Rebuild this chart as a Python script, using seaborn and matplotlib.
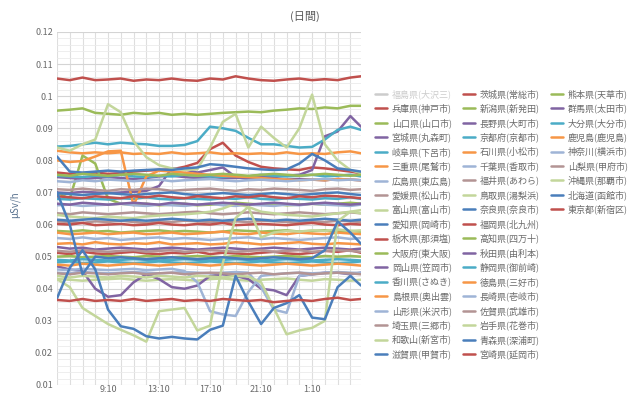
import matplotlib
matplotlib.use("Agg")
import matplotlib.pyplot as plt
from matplotlib.lines import Line2D
from matplotlib.ticker import FixedLocator, MultipleLocator, FuncFormatter
import numpy as np
import pandas as pd
import seaborn as sns

# 時刻（1時間ごとに読み取り）-------------------------------------------------
hours = ["5:10", "6:10", "7:10", "8:10", "9:10", "10:10", "11:10", "12:10",
         "13:10", "14:10", "15:10", "16:10", "17:10", "18:10", "19:10", "20:10",
         "21:10", "22:10", "23:10", "0:10", "1:10", "2:10", "3:10", "4:10", "5:00"]
tick_labels = ["9:10", "13:10", "17:10", "21:10", "1:10"]

# 各地点の空間線量 (μSv/h) -----------------------------------------------------
ibaraki = [0.1055, 0.1050, 0.1058, 0.1050, 0.1052, 0.1055, 0.1048, 0.1052, 0.1050, 0.1055, 0.1050, 0.1048, 0.1055, 0.1052, 0.1062, 0.1055, 0.1050, 0.1048, 0.1052, 0.1055, 0.1050, 0.1053, 0.1050, 0.1058, 0.1062]
kumamoto = [0.0955, 0.0958, 0.0962, 0.0948, 0.0945, 0.0942, 0.0948, 0.0945, 0.0948, 0.0942, 0.0945, 0.0942, 0.0945, 0.0948, 0.0950, 0.0952, 0.0950, 0.0955, 0.0958, 0.0962, 0.0960, 0.0965, 0.0962, 0.0970, 0.0970]
hyogo = [0.0762, 0.0758, 0.0760, 0.0762, 0.0758, 0.0760, 0.0765, 0.0768, 0.0770, 0.0772, 0.0780, 0.0792, 0.0835, 0.0855, 0.0815, 0.0795, 0.0780, 0.0775, 0.0772, 0.0770, 0.0778, 0.0775, 0.0770, 0.0765, 0.0760]
niigata = [0.0700, 0.0680, 0.0815, 0.0790, 0.0680, 0.0665, 0.0662, 0.0665, 0.0660, 0.0662, 0.0665, 0.0660, 0.0662, 0.0665, 0.0668, 0.0665, 0.0662, 0.0665, 0.0660, 0.0662, 0.0665, 0.0662, 0.0665, 0.0668, 0.0665]
gunma = [0.0748, 0.0745, 0.0742, 0.0745, 0.0748, 0.0745, 0.0742, 0.0745, 0.0750, 0.0752, 0.0748, 0.0745, 0.0748, 0.0745, 0.0745, 0.0748, 0.0750, 0.0748, 0.0752, 0.0755, 0.0770, 0.0875, 0.0890, 0.0938, 0.0905]
yamaguchi = [0.0580, 0.0578, 0.0582, 0.0578, 0.0580, 0.0575, 0.0578, 0.0580, 0.0582, 0.0578, 0.0580, 0.0578, 0.0575, 0.0578, 0.0582, 0.0580, 0.0578, 0.0580, 0.0582, 0.0578, 0.0580, 0.0582, 0.0578, 0.0580, 0.0578]
nagano = [0.0700, 0.0698, 0.0702, 0.0700, 0.0698, 0.0700, 0.0702, 0.0705, 0.0720, 0.0775, 0.0772, 0.0762, 0.0770, 0.0778, 0.0748, 0.0742, 0.0740, 0.0738, 0.0740, 0.0742, 0.0740, 0.0738, 0.0742, 0.0740, 0.0738]
oita = [0.0843, 0.0845, 0.0850, 0.0855, 0.0850, 0.0855, 0.0852, 0.0850, 0.0845, 0.0845, 0.0848, 0.0860, 0.0905, 0.0900, 0.0892, 0.0870, 0.0850, 0.0850, 0.0845, 0.0840, 0.0842, 0.0865, 0.0895, 0.0905, 0.0895]
miyagi = [0.0530, 0.0525, 0.0528, 0.0522, 0.0525, 0.0528, 0.0525, 0.0522, 0.0525, 0.0528, 0.0525, 0.0522, 0.0525, 0.0528, 0.0525, 0.0522, 0.0525, 0.0528, 0.0525, 0.0522, 0.0525, 0.0528, 0.0525, 0.0522, 0.0525]
kyoto = [0.0752, 0.0750, 0.0748, 0.0752, 0.0750, 0.0755, 0.0750, 0.0748, 0.0752, 0.0750, 0.0755, 0.0752, 0.0750, 0.0748, 0.0752, 0.0750, 0.0755, 0.0752, 0.0750, 0.0752, 0.0755, 0.0750, 0.0752, 0.0755, 0.0750]
kagoshima = [0.0830, 0.0825, 0.0822, 0.0825, 0.0822, 0.0825, 0.0820, 0.0822, 0.0820, 0.0825, 0.0820, 0.0822, 0.0825, 0.0820, 0.0822, 0.0820, 0.0822, 0.0820, 0.0825, 0.0820, 0.0822, 0.0820, 0.0825, 0.0828, 0.0822]
gifu = [0.0680, 0.0678, 0.0682, 0.0680, 0.0678, 0.0682, 0.0680, 0.0685, 0.0680, 0.0678, 0.0682, 0.0680, 0.0678, 0.0682, 0.0680, 0.0685, 0.0680, 0.0678, 0.0682, 0.0680, 0.0678, 0.0682, 0.0680, 0.0685, 0.0680]
ishikawa = [0.0800, 0.0795, 0.0798, 0.0812, 0.0828, 0.0830, 0.0660, 0.0750, 0.0768, 0.0765, 0.0762, 0.0758, 0.0755, 0.0752, 0.0750, 0.0748, 0.0745, 0.0742, 0.0740, 0.0738, 0.0740, 0.0738, 0.0742, 0.0740, 0.0738]
kanagawa = [0.0735, 0.0732, 0.0738, 0.0735, 0.0740, 0.0738, 0.0735, 0.0738, 0.0740, 0.0735, 0.0738, 0.0740, 0.0742, 0.0738, 0.0735, 0.0738, 0.0740, 0.0738, 0.0735, 0.0738, 0.0740, 0.0742, 0.0738, 0.0740, 0.0738]
mie = [0.0575, 0.0570, 0.0572, 0.0575, 0.0570, 0.0573, 0.0575, 0.0570, 0.0572, 0.0575, 0.0570, 0.0572, 0.0575, 0.0578, 0.0572, 0.0570, 0.0575, 0.0572, 0.0570, 0.0575, 0.0572, 0.0570, 0.0575, 0.0572, 0.0570]
chiba = [0.0660, 0.0662, 0.0658, 0.0660, 0.0662, 0.0665, 0.0660, 0.0658, 0.0662, 0.0660, 0.0658, 0.0662, 0.0665, 0.0660, 0.0658, 0.0662, 0.0660, 0.0658, 0.0662, 0.0660, 0.0665, 0.0662, 0.0660, 0.0658, 0.0662]
yamanashi = [0.0710, 0.0708, 0.0712, 0.0708, 0.0705, 0.0710, 0.0708, 0.0712, 0.0710, 0.0705, 0.0708, 0.0710, 0.0712, 0.0708, 0.0705, 0.0710, 0.0708, 0.0712, 0.0710, 0.0708, 0.0705, 0.0710, 0.0712, 0.0708, 0.0710]
hiroshima = [0.0558, 0.0555, 0.0560, 0.0555, 0.0558, 0.0552, 0.0555, 0.0558, 0.0560, 0.0555, 0.0558, 0.0555, 0.0552, 0.0555, 0.0558, 0.0560, 0.0555, 0.0558, 0.0555, 0.0552, 0.0555, 0.0558, 0.0560, 0.0555, 0.0558]
fukui = [0.0635, 0.0632, 0.0638, 0.0635, 0.0632, 0.0635, 0.0638, 0.0635, 0.0632, 0.0635, 0.0638, 0.0640, 0.0635, 0.0632, 0.0635, 0.0638, 0.0635, 0.0632, 0.0635, 0.0638, 0.0635, 0.0632, 0.0635, 0.0638, 0.0635]
okinawa = [0.0840, 0.0830, 0.0850, 0.0865, 0.0975, 0.0950, 0.0860, 0.0810, 0.0785, 0.0775, 0.0770, 0.0772, 0.0840, 0.0920, 0.0945, 0.0840, 0.0905, 0.0870, 0.0840, 0.0900, 0.1005, 0.0850, 0.0800, 0.0770, 0.0760]
ehime = [0.0610, 0.0608, 0.0605, 0.0610, 0.0608, 0.0612, 0.0608, 0.0605, 0.0610, 0.0608, 0.0612, 0.0610, 0.0608, 0.0605, 0.0610, 0.0608, 0.0612, 0.0610, 0.0608, 0.0605, 0.0610, 0.0608, 0.0612, 0.0610, 0.0608]
tottori = [0.0630, 0.0625, 0.0622, 0.0620, 0.0625, 0.0622, 0.0620, 0.0625, 0.0628, 0.0630, 0.0632, 0.0635, 0.0640, 0.0650, 0.0665, 0.0655, 0.0640, 0.0635, 0.0630, 0.0628, 0.0625, 0.0630, 0.0635, 0.0640, 0.0645]
hokkaido = [0.0812, 0.0765, 0.0762, 0.0765, 0.0768, 0.0765, 0.0768, 0.0770, 0.0772, 0.0770, 0.0775, 0.0778, 0.0788, 0.0785, 0.0780, 0.0775, 0.0772, 0.0770, 0.0772, 0.0790, 0.0820, 0.0800, 0.0775, 0.0770, 0.0765]
toyama = [0.0430, 0.0428, 0.0425, 0.0428, 0.0430, 0.0432, 0.0428, 0.0425, 0.0428, 0.0430, 0.0428, 0.0425, 0.0430, 0.0432, 0.0428, 0.0425, 0.0428, 0.0430, 0.0432, 0.0428, 0.0425, 0.0430, 0.0428, 0.0425, 0.0428]
nara = [0.0698, 0.0695, 0.0692, 0.0695, 0.0698, 0.0695, 0.0692, 0.0695, 0.0698, 0.0700, 0.0695, 0.0692, 0.0695, 0.0698, 0.0695, 0.0692, 0.0695, 0.0698, 0.0695, 0.0692, 0.0695, 0.0698, 0.0700, 0.0695, 0.0692]
tokyo = [0.0602, 0.0600, 0.0605, 0.0598, 0.0600, 0.0602, 0.0598, 0.0600, 0.0605, 0.0600, 0.0598, 0.0602, 0.0600, 0.0605, 0.0598, 0.0600, 0.0602, 0.0600, 0.0598, 0.0602, 0.0605, 0.0600, 0.0598, 0.0602, 0.0600]
aichi = [0.0615, 0.0612, 0.0615, 0.0618, 0.0615, 0.0612, 0.0615, 0.0612, 0.0615, 0.0618, 0.0615, 0.0612, 0.0615, 0.0612, 0.0615, 0.0618, 0.0615, 0.0612, 0.0615, 0.0612, 0.0615, 0.0618, 0.0615, 0.0612, 0.0615]
fukuoka = [0.0688, 0.0685, 0.0682, 0.0688, 0.0685, 0.0682, 0.0688, 0.0685, 0.0690, 0.0685, 0.0682, 0.0688, 0.0685, 0.0682, 0.0688, 0.0685, 0.0690, 0.0685, 0.0682, 0.0688, 0.0685, 0.0690, 0.0688, 0.0685, 0.0682]
tochigi = [0.0512, 0.0508, 0.0515, 0.0510, 0.0508, 0.0512, 0.0515, 0.0510, 0.0508, 0.0512, 0.0510, 0.0515, 0.0508, 0.0512, 0.0510, 0.0508, 0.0512, 0.0515, 0.0510, 0.0508, 0.0512, 0.0518, 0.0515, 0.0520, 0.0512]
kochi = [0.0500, 0.0502, 0.0498, 0.0500, 0.0502, 0.0500, 0.0498, 0.0502, 0.0500, 0.0498, 0.0500, 0.0502, 0.0500, 0.0498, 0.0502, 0.0500, 0.0498, 0.0500, 0.0502, 0.0500, 0.0498, 0.0502, 0.0500, 0.0502, 0.0500]
osaka = [0.0755, 0.0752, 0.0758, 0.0755, 0.0752, 0.0755, 0.0758, 0.0755, 0.0752, 0.0758, 0.0755, 0.0752, 0.0755, 0.0758, 0.0755, 0.0752, 0.0755, 0.0758, 0.0755, 0.0752, 0.0755, 0.0758, 0.0755, 0.0752, 0.0755]
akita = [0.0470, 0.0460, 0.0455, 0.0400, 0.0375, 0.0380, 0.0420, 0.0445, 0.0430, 0.0405, 0.0400, 0.0410, 0.0440, 0.0445, 0.0440, 0.0430, 0.0400, 0.0395, 0.0380, 0.0440, 0.0445, 0.0450, 0.0450, 0.0445, 0.0450]
okayama = [0.0665, 0.0662, 0.0668, 0.0665, 0.0662, 0.0665, 0.0668, 0.0665, 0.0662, 0.0668, 0.0665, 0.0662, 0.0665, 0.0668, 0.0665, 0.0662, 0.0665, 0.0668, 0.0665, 0.0662, 0.0665, 0.0668, 0.0665, 0.0662, 0.0665]
shizuoka = [0.0490, 0.0488, 0.0492, 0.0490, 0.0488, 0.0490, 0.0492, 0.0490, 0.0488, 0.0490, 0.0492, 0.0490, 0.0488, 0.0490, 0.0492, 0.0490, 0.0488, 0.0490, 0.0492, 0.0490, 0.0488, 0.0490, 0.0492, 0.0490, 0.0488]
kagawa = [0.0482, 0.0485, 0.0480, 0.0482, 0.0485, 0.0482, 0.0480, 0.0482, 0.0485, 0.0482, 0.0480, 0.0482, 0.0485, 0.0482, 0.0480, 0.0482, 0.0485, 0.0482, 0.0480, 0.0482, 0.0485, 0.0482, 0.0480, 0.0482, 0.0485]
tokushima = [0.0475, 0.0472, 0.0478, 0.0475, 0.0472, 0.0475, 0.0478, 0.0475, 0.0472, 0.0475, 0.0478, 0.0475, 0.0472, 0.0475, 0.0478, 0.0475, 0.0472, 0.0475, 0.0478, 0.0475, 0.0472, 0.0475, 0.0478, 0.0475, 0.0472]
shimane = [0.0540, 0.0542, 0.0538, 0.0545, 0.0540, 0.0538, 0.0542, 0.0540, 0.0545, 0.0538, 0.0540, 0.0542, 0.0538, 0.0540, 0.0545, 0.0542, 0.0538, 0.0540, 0.0542, 0.0545, 0.0540, 0.0538, 0.0542, 0.0540, 0.0538]
nagasaki = [0.0460, 0.0458, 0.0462, 0.0460, 0.0458, 0.0460, 0.0462, 0.0458, 0.0460, 0.0462, 0.0455, 0.0420, 0.0330, 0.0320, 0.0315, 0.0390, 0.0440, 0.0445, 0.0448, 0.0450, 0.0448, 0.0450, 0.0452, 0.0450, 0.0448]
yamagata = [0.0450, 0.0448, 0.0452, 0.0450, 0.0448, 0.0450, 0.0452, 0.0450, 0.0448, 0.0450, 0.0452, 0.0450, 0.0448, 0.0450, 0.0452, 0.0450, 0.0405, 0.0335, 0.0325, 0.0440, 0.0445, 0.0448, 0.0450, 0.0448, 0.0450]
saga = [0.0518, 0.0515, 0.0520, 0.0518, 0.0515, 0.0518, 0.0520, 0.0515, 0.0518, 0.0520, 0.0515, 0.0518, 0.0520, 0.0518, 0.0515, 0.0518, 0.0520, 0.0515, 0.0518, 0.0520, 0.0515, 0.0518, 0.0520, 0.0518, 0.0515]
saitama = [0.0448, 0.0445, 0.0450, 0.0448, 0.0445, 0.0448, 0.0450, 0.0445, 0.0448, 0.0450, 0.0445, 0.0448, 0.0450, 0.0448, 0.0445, 0.0448, 0.0450, 0.0445, 0.0448, 0.0450, 0.0445, 0.0448, 0.0450, 0.0448, 0.0445]
iwate = [0.0430, 0.0405, 0.0340, 0.0315, 0.0290, 0.0272, 0.0255, 0.0235, 0.0330, 0.0335, 0.0340, 0.0270, 0.0285, 0.0480, 0.0620, 0.0655, 0.0560, 0.0575, 0.0580, 0.0578, 0.0582, 0.0580, 0.0585, 0.0580, 0.0582]
wakayama = [0.0440, 0.0435, 0.0440, 0.0438, 0.0435, 0.0440, 0.0438, 0.0435, 0.0440, 0.0438, 0.0435, 0.0440, 0.0438, 0.0435, 0.0440, 0.0438, 0.0420, 0.0340, 0.0258, 0.0270, 0.0278, 0.0300, 0.0610, 0.0640, 0.0635]
aomori = [0.0370, 0.0465, 0.0520, 0.0460, 0.0335, 0.0283, 0.0275, 0.0252, 0.0245, 0.0250, 0.0245, 0.0242, 0.0272, 0.0285, 0.0440, 0.0360, 0.0290, 0.0340, 0.0355, 0.0380, 0.0310, 0.0305, 0.0405, 0.0440, 0.0410]
shiga = [0.0700, 0.0600, 0.0445, 0.0500, 0.0495, 0.0498, 0.0495, 0.0492, 0.0495, 0.0498, 0.0495, 0.0492, 0.0495, 0.0498, 0.0495, 0.0492, 0.0495, 0.0498, 0.0495, 0.0492, 0.0495, 0.0520, 0.0610, 0.0575, 0.0540]
miyazaki = [0.0365, 0.0362, 0.0368, 0.0362, 0.0365, 0.0362, 0.0368, 0.0362, 0.0365, 0.0368, 0.0362, 0.0365, 0.0362, 0.0368, 0.0365, 0.0362, 0.0365, 0.0358, 0.0362, 0.0365, 0.0362, 0.0368, 0.0372, 0.0365, 0.0368]

# 凡例の順番（福島県はデータなし）-----------------------------------------------
RED, GREEN, PURPLE, AQUA, ORANGE = "#C0504D", "#9BBB59", "#8064A2", "#4BACC6", "#F79646"
LBLUE, MAUVE, LGREEN, BLUE, GRAY = "#9FB4D6", "#B39494", "#C3D69B", "#4A7EBB", "#CCCCCC"

sites = [
    ("福島県(大沢三)", None, GRAY), ("茨城県(常総市)", ibaraki, RED), ("熊本県(天草市)", kumamoto, GREEN),
    ("兵庫県(神戸市)", hyogo, RED), ("新潟県(新発田)", niigata, GREEN), ("群馬県(太田市)", gunma, PURPLE),
    ("山口県(山口市)", yamaguchi, GREEN), ("長野県(大町市)", nagano, PURPLE), ("大分県(大分市)", oita, AQUA),
    ("宮城県(丸森町)", miyagi, PURPLE), ("京都府(京都市)", kyoto, AQUA), ("鹿児島(鹿児島)", kagoshima, ORANGE),
    ("岐阜県(下呂市)", gifu, AQUA), ("石川県(小松市)", ishikawa, ORANGE), ("神奈川(横浜市)", kanagawa, LBLUE),
    ("三重県(尾鷲市)", mie, ORANGE), ("千葉県(香取市)", chiba, LBLUE), ("山梨県(甲府市)", yamanashi, MAUVE),
    ("広島県(東広島)", hiroshima, LBLUE), ("福井県(あわら)", fukui, MAUVE), ("沖縄県(那覇市)", okinawa, LGREEN),
    ("愛媛県(松山市)", ehime, MAUVE), ("鳥取県(湯梨浜)", tottori, LGREEN), ("北海道(函館市)", hokkaido, BLUE),
    ("富山県(富山市)", toyama, LGREEN), ("奈良県(奈良市)", nara, BLUE), ("東京都(新宿区)", tokyo, RED),
    ("愛知県(岡崎市)", aichi, BLUE), ("福岡県(北九州)", fukuoka, RED),
    ("栃木県(那須塩)", tochigi, RED), ("高知県(四万十)", kochi, GREEN),
    ("大阪府(東大阪)", osaka, GREEN), ("秋田県(由利本)", akita, PURPLE),
    ("岡山県(笠岡市)", okayama, PURPLE), ("静岡県(御前崎)", shizuoka, AQUA),
    ("香川県(さぬき)", kagawa, AQUA), ("徳島県(三好市)", tokushima, ORANGE),
    ("島根県(奥出雲)", shimane, ORANGE), ("長崎県(壱岐市)", nagasaki, LBLUE),
    ("山形県(米沢市)", yamagata, LBLUE), ("佐賀県(武雄市)", saga, MAUVE),
    ("埼玉県(三郷市)", saitama, MAUVE), ("岩手県(花巻市)", iwate, LGREEN),
    ("和歌山(新宮市)", wakayama, LGREEN), ("青森県(深浦町)", aomori, BLUE),
    ("滋賀県(甲賀市)", shiga, BLUE), ("宮崎県(延岡市)", miyazaki, RED),
]


def to_hour(s):
    h, m = s.split(":")
    v = int(h) + int(m) / 60
    return v + 24 if v < 5.1 else v


wide = pd.DataFrame({name: vals for name, vals, _ in sites if vals is not None}, index=hours)
wide["hour"] = [to_hour(s) for s in hours]
df = wide.melt(id_vars="hour", var_name="site", value_name="value")

plot_names = [n for n, v, _ in sites if v is not None]
palette = {n: c for n, _, c in sites}

# 図 ----------------------------------------------------------------------------
sns.set_style("white")
plt.rcParams["font.family"] = ["Noto Sans CJK JP", "DejaVu Sans"]

fig, ax = plt.subplots(figsize=(6.4, 3.96), dpi=100)
fig.subplots_adjust(left=57 / 640, right=361 / 640, bottom=1 - 385 / 396, top=1 - 32 / 396)

sns.lineplot(data=df, x="hour", y="value", hue="site", hue_order=plot_names,
             palette=palette, estimator=None, sort=False, linewidth=1.8,
             legend=False, ax=ax)

x0, x1 = to_hour(hours[0]), to_hour(hours[-1])
ax.set_xlim(x0, x1)
ax.set_ylim(0.01, 0.12)

# 目盛と格子
tick_pos = [to_hour(t) for t in tick_labels]
ax.xaxis.set_major_locator(FixedLocator(tick_pos))
ax.set_xticklabels(tick_labels)
ax.xaxis.set_minor_locator(FixedLocator(np.arange(x0, x1, 1.0)))
ax.yaxis.set_major_locator(MultipleLocator(0.01))
ax.yaxis.set_minor_locator(MultipleLocator(0.002))
ax.yaxis.set_major_formatter(FuncFormatter(lambda v, _: f"{round(v, 3):g}"))

ax.grid(which="major", axis="y", color="#d4d4d4", linewidth=0.8)
ax.grid(which="minor", axis="y", color="#ebebeb", linewidth=0.6)
ax.grid(which="minor", axis="x", color="#dedede", linewidth=0.8)
ax.grid(which="major", axis="x", color="#dedede", linewidth=0.8)
ax.set_axisbelow(True)
for sp in ax.spines.values():
    sp.set_visible(False)
ax.tick_params(which="both", length=0, labelsize=6.5, colors="#6a6a6a")
ax.tick_params(axis="x", pad=0)
ax.tick_params(axis="y", pad=3)

ax.set_xlabel("")
ax.set_ylabel("μSv/h", color="#5a7390", fontsize=7)
ax.yaxis.set_label_coords(-37 / 304, 0.51)

fig.text(305 / 640, 1 - 16 / 396, "(日間)", ha="center", va="center", fontsize=8, color="#595959")

# 凡例（行方向に並べる：上9行は3列、下10行は2列）
entries = [(n, c) for n, _, c in sites]
rows = [entries[3 * r:3 * r + 3] for r in range(9)]
rows += [entries[27 + 2 * r:27 + 2 * r + 2] + [None] for r in range(10)]
handles, labels = [], []
for c in range(3):
    for r in range(len(rows)):
        e = rows[r][c]
        if e is None:
            handles.append(Line2D([], [], color="none"))
            labels.append("")
        else:
            handles.append(Line2D([], [], color=e[1], linewidth=1.8))
            labels.append(e[0])

leg = ax.legend(handles, labels, ncol=3, loc="upper left",
                bbox_to_anchor=(375 / 640, 1 - 89 / 396), bbox_transform=fig.transFigure,
                frameon=False, fontsize=6.5, labelcolor="#6a6a6a",
                handlelength=1.35, handletextpad=0.5, columnspacing=1.25,
                labelspacing=0.52, borderpad=0, borderaxespad=0)
leg.get_texts()[0].set_color("#cccccc")

fig.savefig("out.png", dpi=100)
